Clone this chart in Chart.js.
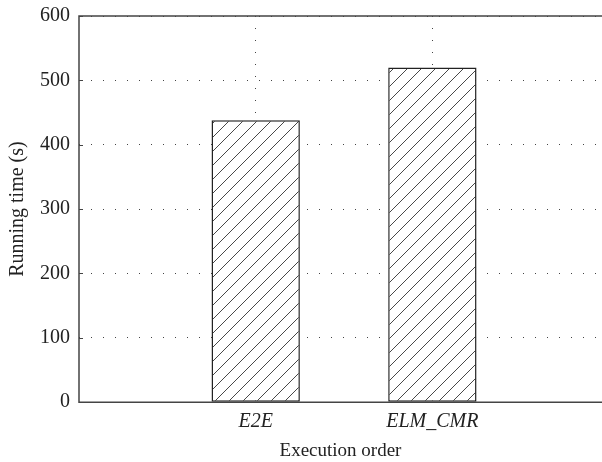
<!DOCTYPE html>
<html>
<head>
<meta charset="utf-8">
<script src="https://cdn.jsdelivr.net/npm/chart.js@4"></script>
<style>
  html, body { margin: 0; padding: 0; background: #fff; overflow: hidden; }
  canvas { display: block; }
</style>
</head>
<body>
<canvas id="grafica" width="602" height="462"></canvas>
<script>
// Datos
const categorias = ['E2E', 'ELM_CMR'];
const tiempos = [438, 520];
const ticksY = [0, 100, 200, 300, 400, 500, 600];

// Cada barra va en la posición 1, 2... del eje X (eje lineal)
const puntos = tiempos.map((v, i) => ({ x: i + 1, y: v }));

const serif = "'Liberation Serif', 'DejaVu Serif', serif";
const tinta = '#222';

// Patrón de rayado diagonal para las barras
function rayado() {
    const s = 14;
    const c = document.createElement('canvas');
    c.width = s; c.height = s;
    const g = c.getContext('2d');
    g.fillStyle = '#fff';
    g.fillRect(0, 0, s, s);
    g.strokeStyle = '#333';
    g.lineWidth = 0.9;
    g.beginPath();
    g.moveTo(0, s); g.lineTo(s, 0);
    g.moveTo(-s / 2, s / 2); g.lineTo(s / 2, -s / 2);
    g.moveTo(s / 2, s * 1.5); g.lineTo(s * 1.5, s / 2);
    g.stroke();
    return g.createPattern(c, 'repeat');
}

// Marco (izquierda, arriba, abajo) y marcas hacia dentro en el eje Y
const marco = {
    id: 'marco',
    afterDraw(chart) {
        const { ctx, chartArea: a, scales } = chart;
        ctx.save();
        ctx.strokeStyle = '#444';
        ctx.lineWidth = 1.5;
        ctx.beginPath();
        ctx.moveTo(a.right + 2, a.top);
        ctx.lineTo(a.left, a.top);
        ctx.lineTo(a.left, a.bottom);
        ctx.lineTo(a.right + 2, a.bottom);
        ctx.stroke();
        ctx.lineWidth = 1;
        ctx.beginPath();
        ticksY.forEach(v => {
            const y = Math.round(scales.y.getPixelForValue(v)) + 0.5;
            ctx.moveTo(a.left, y); ctx.lineTo(a.left + 4, y);
        });
        ctx.stroke();
        ctx.restore();
    }
};

const ctx = document.getElementById('grafica').getContext('2d');
new Chart(ctx, {
    type: 'bar',
    data: {
        datasets: [{
            data: puntos,
            backgroundColor: rayado(),
            borderColor: tinta,
            borderWidth: 1.5,
            borderSkipped: false,
            categoryPercentage: 0.5,
            barPercentage: 1
        }]
    },
    options: {
        responsive: false,
        animation: false,
        devicePixelRatio: 1,
        layout: { padding: { top: 0, left: 6, right: 0, bottom: 0 } },
        plugins: { legend: { display: false }, tooltip: { enabled: false } },
        scales: {
            x: {
                type: 'linear',
                min: 0,
                max: 2.96,
                offset: false,
                afterBuildTicks: s => { s.ticks = categorias.map((c, i) => ({ value: i + 1 })); },
                grid: { offset: false, drawTicks: false, color: '#444' },
                border: { display: false, dash: [1, 11] },
                ticks: {
                    padding: 8,
                    color: tinta,
                    font: { family: serif, size: 20, style: 'italic' },
                    callback: v => categorias[v - 1]
                },
                title: {
                    display: true,
                    text: 'Execution order',
                    color: tinta,
                    padding: { top: -3, bottom: 0 },
                    font: { family: serif, size: 19 }
                }
            },
            y: {
                min: 0,
                max: 600,
                afterBuildTicks: s => { s.ticks = ticksY.map(v => ({ value: v })); },
                grid: { drawTicks: false, color: '#444' },
                border: { display: false, dash: [1, 11] },
                ticks: {
                    padding: 9,
                    color: tinta,
                    font: { family: serif, size: 20, lineHeight: 0.7 }
                },
                title: {
                    display: true,
                    text: 'Running time (s)',
                    color: tinta,
                    padding: { top: 0, bottom: 1 },
                    font: { family: serif, size: 20 }
                }
            }
        }
    },
    plugins: [marco]
});
</script>
</body>
</html>
